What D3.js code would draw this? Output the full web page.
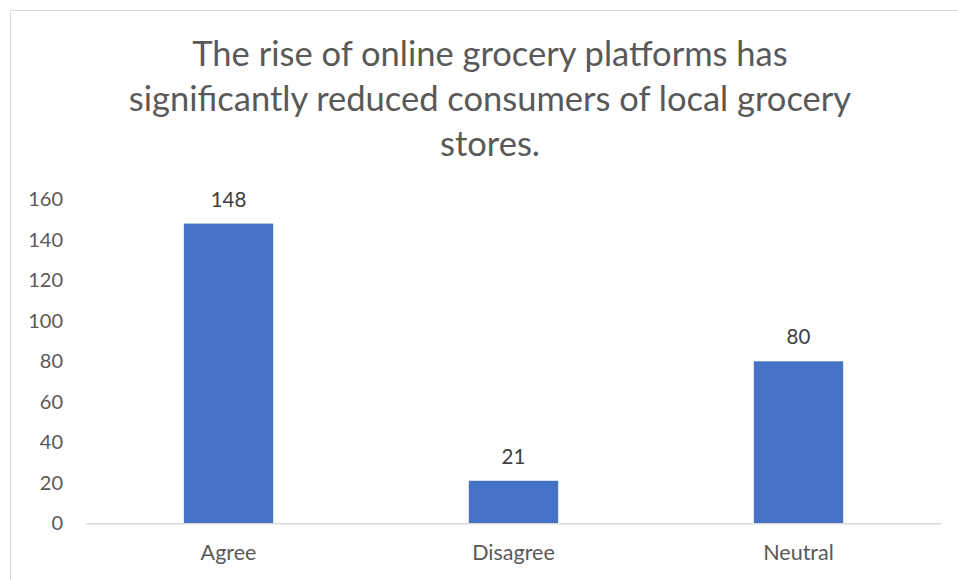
<!DOCTYPE html>
<html><head><meta charset="utf-8">
<script src="https://cdn.jsdelivr.net/npm/d3@7/dist/d3.min.js"></script>
<style>body{margin:0;background:#fff;}svg{display:block;}</style>
</head><body>
<svg id="c" width="958" height="580"></svg>
<script>
const categories = ["Agree", "Disagree", "Neutral"];
const values = [148, 21, 80];
const yTicks = [0, 20, 40, 60, 80, 100, 120, 140, 160];
const titleLines = ["The rise of online grocery platforms has", "significantly reduced consumers of local grocery", "stores."];

const svg = d3.select("#c");
const font = "Lato, 'Noto Sans', sans-serif";
svg.append("rect").attr("x", 10.5).attr("y", 10.5).attr("width", 960).attr("height", 580)
  .attr("fill", "#fff").attr("stroke", "#d9d9d9");

const x = d3.scaleBand().domain(categories).range([86, 941]).paddingInner(0.6865).paddingOuter(0.6865/2);
const y = d3.scaleLinear().domain([0, 160]).range([523.3, 199.3]);

svg.append("g").selectAll("text").data(titleLines).join("text")
  .attr("x", 490).attr("y", (d, i) => 66 + i * 45)
  .attr("text-anchor", "middle").attr("font-family", font).attr("font-size", 34.5)
  .attr("fill", "#595959").text(d => d);

const yAxis = svg.append("g").attr("transform", "translate(86,0)")
  .call(d3.axisLeft(y).tickValues(yTicks).tickSize(0).tickPadding(23));
yAxis.select(".domain").remove();
yAxis.selectAll("text").attr("font-family", font).attr("font-size", 20).attr("fill", "#595959");

svg.append("g").selectAll("rect").data(values).join("rect")
  .attr("x", (d, i) => x(categories[i])).attr("width", x.bandwidth())
  .attr("y", d => y(d)).attr("height", d => y(0) - y(d)).attr("fill", "#4472C4");

const xAxis = svg.append("g").attr("transform", `translate(0,${y(0)})`)
  .call(d3.axisBottom(x).tickSize(0).tickPadding(21));
xAxis.select(".domain").attr("stroke", "#d9d9d9").attr("stroke-width", 1.5);
xAxis.selectAll("text").attr("font-family", font).attr("font-size", 21.5).attr("fill", "#595959");

svg.append("g").selectAll("text").data(values).join("text")
  .attr("x", (d, i) => x(categories[i]) + x.bandwidth() / 2)
  .attr("y", d => y(d) - 17)
  .attr("text-anchor", "middle").attr("font-family", font).attr("font-size", 20.5)
  .attr("fill", "#404040").text(d => d);
</script>
</body></html>
